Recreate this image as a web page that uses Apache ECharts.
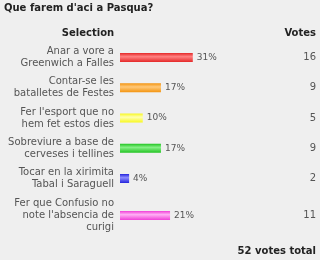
<!DOCTYPE html>
<html>
<head>
<meta charset="utf-8">
<style>html,body{margin:0;padding:0;background:#efefef;}#c{width:320px;height:260px;}</style>
<script src="https://cdn.jsdelivr.net/npm/echarts@6/dist/echarts.min.js"></script>
</head>
<body>
<div id="c"></div>
<script>
const titleText = "Que farem d'aci a Pasqua?";
const headerSelection = "Selection";
const headerVotes = "Votes";
const totalText = "52 votes total";
const categories = [
  "Anar a vore a\nGreenwich a Falles",
  "Contar-se les\nbatalletes de Festes",
  "Fer l'esport que no\nhem fet estos dies",
  "Sobreviure a base de\ncerveses i tellines",
  "Tocar en la xirimita\nTabal i Saraguell",
  "Fer que Confusio no\nnote l'absencia de\ncurigi"
];
const votes = [16, 9, 5, 9, 2, 11];
const percents = [31, 17, 10, 17, 4, 21];
const barColors = [
  ['#e42828', '#ff8080'],
  ['#f39410', '#ffc878'],
  ['#f8f820', '#ffffb0'],
  ['#22c422', '#86f086'],
  ['#2424dc', '#8c8cff'],
  ['#f040d8', '#ffb0f4']
];

const FONT = 'DejaVu Sans';
const chart = echarts.init(document.getElementById('c'), null, {renderer: 'canvas'});

function grad(i) {
  return new echarts.graphic.LinearGradient(0, 0, 0, 1, [
    {offset: 0, color: barColors[i][0]},
    {offset: 0.4, color: barColors[i][1]},
    {offset: 1, color: barColors[i][0]}
  ]);
}

const groups = [[0, 1, 2, 3, 4], [5]];
const gridDefs = [
  {left: 120, right: 63.5, top: 42.4, height: 151.25},
  {left: 120, right: 63.5, top: 200.5, height: 30}
];

const grid = [], xAxis = [], yAxis = [], series = [];
groups.forEach((idx, g) => {
  grid.push(gridDefs[g]);
  xAxis.push({gridIndex: g, type: 'value', min: 0, max: 30, show: false});
  yAxis.push({
    gridIndex: g, type: 'category', inverse: true,
    data: idx.map(i => categories[i]),
    axisLine: {show: false}, axisTick: {show: false}, splitLine: {show: false},
    axisLabel: {margin: 6, color: '#555', fontFamily: FONT, fontSize: 10, lineHeight: 12, align: 'right'}
  });
  yAxis.push({
    gridIndex: g, type: 'category', inverse: true, position: 'right',
    data: idx.map(i => String(votes[i])),
    axisLine: {show: false}, axisTick: {show: false}, splitLine: {show: false},
    axisLabel: {margin: 59.5, align: 'right', color: '#555', fontFamily: FONT, fontSize: 10}
  });
  series.push({
    type: 'bar', xAxisIndex: g, yAxisIndex: 2 * g,
    barWidth: 9,
    data: idx.map(i => ({value: votes[i], itemStyle: {color: grad(i)}})),
    label: {
      show: true, position: 'right', distance: 4,
      formatter: p => percents[idx[p.dataIndex]] + '%',
      color: '#555', fontFamily: FONT, fontSize: 9
    },
    silent: true, animation: false
  });
});

const hdr = {fontFamily: FONT, fontSize: 10, fontWeight: 'bold', color: '#222'};
chart.setOption({
  backgroundColor: '#efefef',
  animation: false,
  title: [
    {text: titleText, left: 4, top: 3, padding: 0, textStyle: hdr},
    {text: headerSelection, left: 88, top: 28, padding: 0, textAlign: 'center', textStyle: hdr},
    {text: headerVotes, right: 4, top: 28, padding: 0, textStyle: hdr},
    {text: totalText, right: 4, top: 246, padding: 0, textStyle: hdr}
  ],
  grid, xAxis, yAxis, series
});
</script>
</body>
</html>
